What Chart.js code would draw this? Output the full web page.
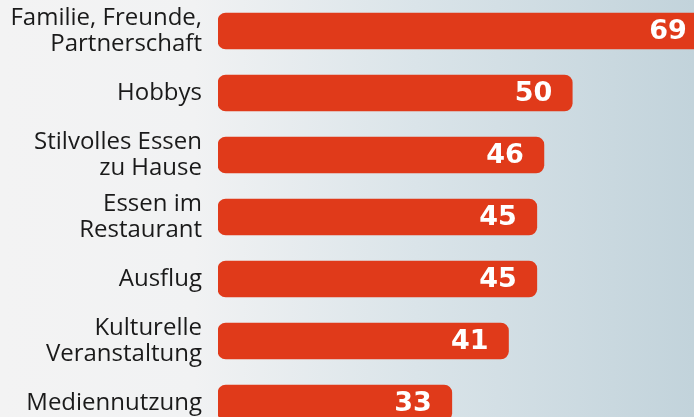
<!DOCTYPE html>
<html>
<head>
<meta charset="utf-8">
<script src="https://cdn.jsdelivr.net/npm/chart.js@4"></script>
<style>
  html, body { margin: 0; padding: 0; width: 694px; height: 417px; overflow: hidden; }
  body {
    background: linear-gradient(to right, #f3f3f3 0%, #f1f2f3 28%, #dae4e9 60%, #c2d3db 100%);
  }
  #chart { position: absolute; left: 0; top: 0; }
</style>
</head>
<body>
<canvas id="chart" width="760" height="434"></canvas>
<script>
const categories = [
  ['Familie, Freunde,', 'Partnerschaft'],
  ['Hobbys'],
  ['Stilvolles Essen', 'zu Hause'],
  ['Essen im', 'Restaurant'],
  ['Ausflug'],
  ['Kulturelle', 'Veranstaltung'],
  ['Mediennutzung']
];
const values = [69, 50, 46, 45, 45, 41, 33];

// Category labels on the left and value labels inside the bar ends
const labelPlugin = {
  id: 'labelPlugin',
  afterDatasetsDraw(chart) {
    const ctx = chart.ctx;
    const yScale = chart.scales.y;
    const meta = chart.getDatasetMeta(0);
    const lineH = 26;
    ctx.save();
    ctx.textBaseline = 'middle';

    ctx.font = '24px "Open Sans"';
    ctx.fillStyle = '#1a1a1a';
    ctx.textAlign = 'right';
    categories.forEach((lines, i) => {
      const cy = yScale.getPixelForValue(i);
      const start = cy - (lines.length - 1) * lineH / 2;
      lines.forEach((t, j) => ctx.fillText(t, chart.chartArea.left - 16, start + j * lineH));
    });

    ctx.font = 'bold 27px "DejaVu Sans"';
    ctx.fillStyle = '#ffffff';
    meta.data.forEach((bar, i) => {
      ctx.fillText(String(values[i]), bar.x - 20, bar.y + 1);
    });
    ctx.restore();
  }
};

new Chart(document.getElementById('chart').getContext('2d'), {
  type: 'bar',
  data: {
    labels: categories.map(l => l.join(' ')),
    datasets: [{
      data: values,
      backgroundColor: '#e03a1a',
      borderRadius: 8,
      borderSkipped: false,
      barThickness: 36
    }]
  },
  options: {
    indexAxis: 'y',
    responsive: false,
    animation: false,
    layout: { padding: { left: 218, top: 0, right: 0, bottom: 0 } },
    plugins: {
      legend: { display: false },
      tooltip: { enabled: false }
    },
    scales: {
      x: { display: false, min: 0, max: 76.5 },
      y: { display: false }
    }
  },
  plugins: [labelPlugin]
});
</script>
</body>
</html>
